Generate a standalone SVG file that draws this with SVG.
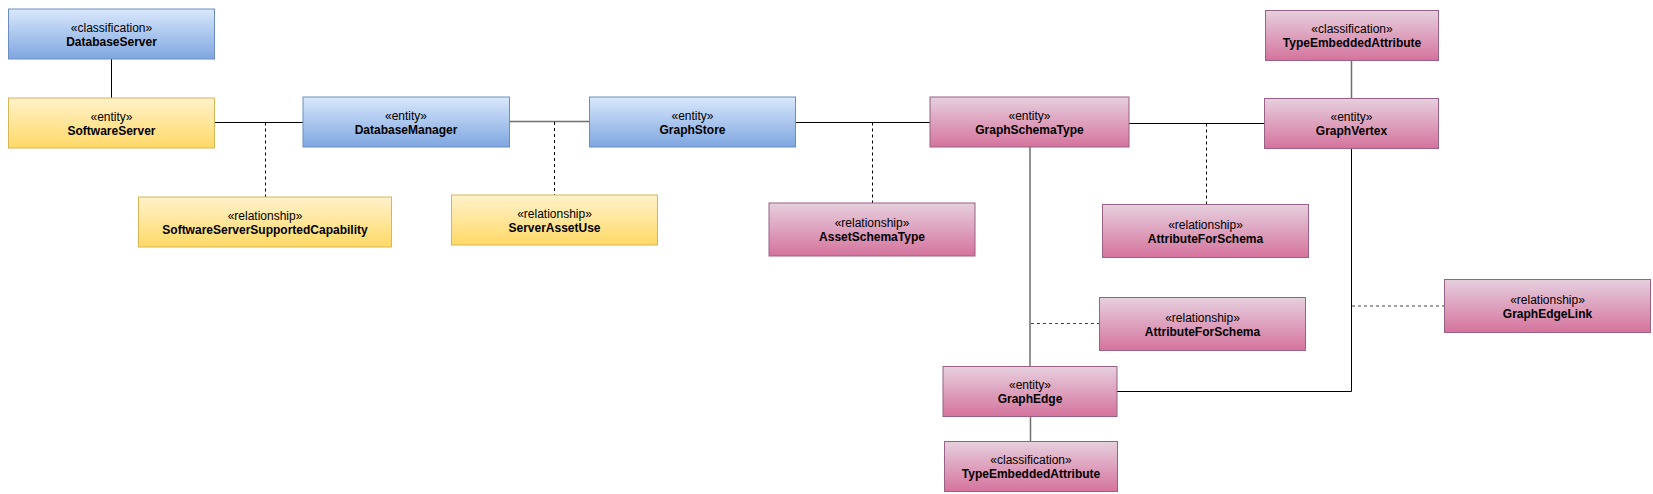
<svg xmlns="http://www.w3.org/2000/svg" width="1653" height="494" viewBox="0 0 1653 494">
<defs>
<linearGradient id="gBlue" x1="0" y1="0" x2="0" y2="1"><stop offset="0" stop-color="#dae8fc"/><stop offset="1" stop-color="#7ea6e0"/></linearGradient>
<linearGradient id="gYellow" x1="0" y1="0" x2="0" y2="1"><stop offset="0" stop-color="#fff2cc"/><stop offset="1" stop-color="#ffd966"/></linearGradient>
<linearGradient id="gPink" x1="0" y1="0" x2="0" y2="1"><stop offset="0" stop-color="#e6d0de"/><stop offset="1" stop-color="#d5739d"/></linearGradient>
<style>
.blue{fill:url(#gBlue);stroke:#6c8ebf;stroke-width:1}
.yellow{fill:url(#gYellow);stroke:#d6b656;stroke-width:1}
.pink{fill:url(#gPink);stroke:#996185;stroke-width:1}
.st{font-family:"Liberation Sans",Arial,sans-serif;font-size:12px;text-anchor:middle;fill:#000}
.nm{font-family:"Liberation Sans",Arial,sans-serif;font-size:12px;font-weight:bold;text-anchor:middle;fill:#000}
.ln{fill:none;stroke:#000;stroke-width:1}
.lg{fill:none;stroke:#6e6e6e;stroke-width:1.5}
.ds{fill:none;stroke:#000;stroke-width:1;stroke-dasharray:3,3}
.dg{fill:none;stroke:#444;stroke-width:1.2;stroke-dasharray:3,3}
</style>
</defs>
<rect width="1653" height="494" fill="#fff"/>
<g id="connectors">
<path class="ln" d="M111.5 59 V98"/>
<path class="ln" d="M214.5 122.5 H303" stroke="#333"/>
<path class="ds" d="M265.5 122.5 V197"/>
<path class="lg" d="M509.5 121.5 H589.5"/>
<path class="ds" d="M554.5 122 V195"/>
<path class="ln" d="M795.5 122.5 H930"/>
<path class="ds" d="M872.5 122.5 V203"/>
<path class="ln" d="M1129 123.5 H1264.5"/>
<path class="ds" d="M1206.5 123.5 V204.5"/>
<path class="lg" d="M1351.5 60.5 V98.5"/>
<path class="lg" d="M1030 147 V366.5"/>
<path class="dg" d="M1031 323.5 H1099.5"/>
<path class="ln" d="M1351.5 148.5 V391.5 H1117"/>
<path class="dg" d="M1352 306 H1444.5"/>
<path class="lg" d="M1030.5 416.5 V441.5"/>
</g>
<g id="DatabaseServer"><rect class="blue" x="8.5" y="9" width="206" height="50"/><text class="st" x="111.5" y="31.5">«classification»</text><text class="nm" x="111.5" y="45.5">DatabaseServer</text></g>
<g id="SoftwareServer"><rect class="yellow" x="8.5" y="98" width="206" height="50"/><text class="st" x="111.5" y="120.5">«entity»</text><text class="nm" x="111.5" y="134.5">SoftwareServer</text></g>
<g id="SoftwareServerSupportedCapability"><rect class="yellow" x="138.5" y="197" width="253" height="50"/><text class="st" x="265" y="219.5">«relationship»</text><text class="nm" x="265" y="233.5">SoftwareServerSupportedCapability</text></g>
<g id="DatabaseManager"><rect class="blue" x="303" y="97" width="206.5" height="50"/><text class="st" x="406" y="119.5">«entity»</text><text class="nm" x="406" y="133.5">DatabaseManager</text></g>
<g id="ServerAssetUse"><rect class="yellow" x="451.5" y="195" width="206" height="50"/><text class="st" x="554.5" y="217.5">«relationship»</text><text class="nm" x="554.5" y="231.5">ServerAssetUse</text></g>
<g id="GraphStore"><rect class="blue" x="589.5" y="97" width="206" height="50"/><text class="st" x="692.5" y="119.5">«entity»</text><text class="nm" x="692.5" y="133.5">GraphStore</text></g>
<g id="AssetSchemaType"><rect class="pink" x="769" y="203" width="206" height="53"/><text class="st" x="872" y="227">«relationship»</text><text class="nm" x="872" y="241">AssetSchemaType</text></g>
<g id="GraphSchemaType"><rect class="pink" x="930" y="97" width="199" height="50"/><text class="st" x="1029.5" y="119.5">«entity»</text><text class="nm" x="1029.5" y="133.5">GraphSchemaType</text></g>
<g id="AttributeForSchema1"><rect class="pink" x="1102.5" y="204.5" width="206" height="53"/><text class="st" x="1205.5" y="228.5">«relationship»</text><text class="nm" x="1205.5" y="242.5">AttributeForSchema</text></g>
<g id="TypeEmbeddedAttribute1"><rect class="pink" x="1265.5" y="10.5" width="173" height="50"/><text class="st" x="1352" y="33">«classification»</text><text class="nm" x="1352" y="47">TypeEmbeddedAttribute</text></g>
<g id="GraphVertex"><rect class="pink" x="1264.5" y="98.5" width="174" height="50"/><text class="st" x="1351.5" y="121">«entity»</text><text class="nm" x="1351.5" y="135">GraphVertex</text></g>
<g id="GraphEdgeLink"><rect class="pink" x="1444.5" y="279.5" width="206" height="53"/><text class="st" x="1547.5" y="303.5">«relationship»</text><text class="nm" x="1547.5" y="317.5">GraphEdgeLink</text></g>
<g id="AttributeForSchema2"><rect class="pink" x="1099.5" y="297.5" width="206" height="53"/><text class="st" x="1202.5" y="321.5">«relationship»</text><text class="nm" x="1202.5" y="335.5">AttributeForSchema</text></g>
<g id="GraphEdge"><rect class="pink" x="943" y="366.5" width="174" height="50"/><text class="st" x="1030" y="389">«entity»</text><text class="nm" x="1030" y="403">GraphEdge</text></g>
<g id="TypeEmbeddedAttribute2"><rect class="pink" x="944.5" y="441.5" width="173" height="50"/><text class="st" x="1031" y="464">«classification»</text><text class="nm" x="1031" y="478">TypeEmbeddedAttribute</text></g>
</svg>
